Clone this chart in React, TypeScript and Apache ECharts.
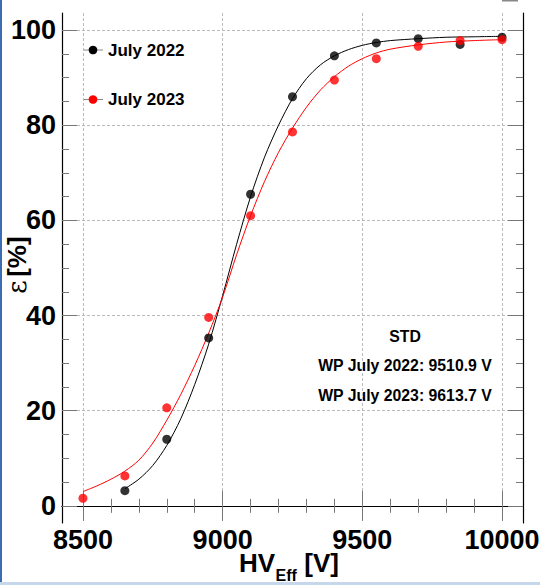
import React, { useEffect, useRef } from "react";
import * as echarts from "echarts";

// Measured points
const hv2022 = [8650, 8800, 8950, 9100, 9250, 9400, 9550, 9700, 9850, 10000];
const eff2022 = [3.2, 14.0, 35.3, 65.5, 86.0, 94.6, 97.3, 98.2, 97.0, 98.5];
const hv2023 = [8500, 8650, 8800, 8950, 9100, 9250, 9400, 9550, 9700, 9850, 10000];
const eff2023 = [1.6, 6.3, 20.6, 39.6, 61.0, 78.6, 89.5, 94.0, 96.6, 97.8, 98.0];

// Fit curves
const fitHv2022 = [8650, 8700, 8750, 8800, 8850, 8900, 8950, 9000, 9050, 9100, 9150, 9200, 9250, 9300, 9350, 9400, 9450, 9500, 9550, 9600, 9700, 9800, 9900, 10000];
const fitEff2022 = [3.6, 5.6, 8.5, 12.7, 18.3, 25.5, 34.0, 44.2, 55.0, 65.0, 73.3, 80.0, 85.6, 89.8, 92.7, 94.6, 95.9, 96.8, 97.4, 97.8, 98.2, 98.5, 98.6, 98.7];
const fitHv2023 = [8500, 8550, 8600, 8650, 8700, 8750, 8800, 8850, 8900, 8950, 9000, 9050, 9100, 9150, 9200, 9250, 9300, 9350, 9400, 9450, 9500, 9550, 9600, 9700, 9800, 9900, 10000];
const fitEff2023 = [3.0, 4.2, 5.6, 7.3, 9.6, 13.2, 18.0, 23.4, 29.5, 36.3, 43.9, 52.8, 61.0, 68.2, 74.3, 79.4, 83.8, 87.4, 90.2, 92.4, 94.0, 95.2, 96.0, 96.9, 97.5, 97.8, 98.0];

// Tick labels
const xMajor = [8500, 9000, 9500, 10000];
const yMajor = [0, 20, 40, 60, 80, 100];
const xMinorStep = 100;
const yMinorStep = 5;

const legendLabels = ["July 2022", "July 2023"];
const statsLines = ["STD", "WP July 2022: 9510.9 V", "WP July 2023: 9613.7 V"];

const X_MIN = 8425, X_MAX = 10075, Y_MIN = -3.6, Y_MAX = 103.6;

function minorValues(major: number[], step: number): number[] {
  const out: number[] = [];
  for (let i = 0; i < major.length - 1; i++) {
    for (let v = major[i] + step; v < major[i + 1] - 1e-9; v += step) out.push(Math.round(v * 1000) / 1000);
  }
  return out;
}

const FONT = "'Liberation Sans', Arial, Helvetica, sans-serif";

export default function App() {
  const ref = useRef<HTMLDivElement>(null);
  useEffect(() => {
    if (!ref.current) return;
    const chart = echarts.init(ref.current, null, { renderer: "svg" });
    const xMinor = minorValues(xMajor, xMinorStep);
    const yMinor = minorValues(yMajor, yMinorStep);
    const tickColor = "#777";
    const frame = { show: true, lineStyle: { color: "#000", width: 1.2 } };
    const base = { type: "value", min: X_MIN, max: X_MAX, gridIndex: 0 };
    const ybase = { type: "value", min: Y_MIN, max: Y_MAX, gridIndex: 0 };
    const hidden = { show: false };
    const labelStyle = { fontSize: 27, fontWeight: "bold", color: "#000", fontFamily: FONT, lineHeight: 22 };

    const option: any = {
      animation: false,
      backgroundColor: "#fff",
      grid: { left: 62, right: 17, top: 13, bottom: 62, containLabel: false, outerBoundsMode: "none" },
      xAxis: [
        {
          ...base, position: "bottom", axisLine: frame,
          axisTick: { show: true, inside: true, length: 15, customValues: xMajor, lineStyle: { color: tickColor } },
          axisLabel: { show: true, customValues: xMajor, margin: 5.5, formatter: (v: number) => String(v), ...labelStyle },
          splitLine: { show: true, lineStyle: { color: "#bbb", type: [3, 2], width: 1 } },
        },
        {
          ...base, position: "bottom", axisLine: hidden, axisLabel: hidden, splitLine: hidden,
          axisTick: { show: true, inside: true, length: 7, customValues: xMinor, lineStyle: { color: tickColor } },
        },
        {
          ...base, position: "top", axisLine: frame, axisLabel: hidden, splitLine: hidden,
          axisTick: { show: true, inside: true, length: 15, customValues: xMajor, lineStyle: { color: tickColor } },
        },
        {
          ...base, position: "top", axisLine: hidden, axisLabel: hidden, splitLine: hidden,
          axisTick: { show: true, inside: true, length: 7, customValues: xMinor, lineStyle: { color: tickColor } },
        },
      ],
      yAxis: [
        {
          ...ybase, position: "left", axisLine: frame,
          axisTick: { show: true, inside: true, length: 15, customValues: yMajor, lineStyle: { color: tickColor } },
          axisLabel: { show: true, customValues: yMajor, margin: 6, formatter: (v: number) => String(v), ...labelStyle },
          splitLine: { show: true, lineStyle: { color: "#bbb", type: [3, 2], width: 1 } },
        },
        {
          ...ybase, position: "left", axisLine: hidden, axisLabel: hidden, splitLine: hidden,
          axisTick: { show: true, inside: true, length: 7, customValues: yMinor, lineStyle: { color: tickColor } },
        },
        {
          ...ybase, position: "right", axisLine: frame, axisLabel: hidden, splitLine: hidden,
          axisTick: { show: true, inside: true, length: 15, customValues: yMajor, lineStyle: { color: tickColor } },
        },
        {
          ...ybase, position: "right", axisLine: hidden, axisLabel: hidden, splitLine: hidden,
          axisTick: { show: true, inside: true, length: 7, customValues: yMinor, lineStyle: { color: tickColor } },
        },
      ],
      series: [
        {
          type: "line", xAxisIndex: 0, yAxisIndex: 0, showSymbol: false, smooth: 0.3,
          data: fitHv2022.map((x, i) => [x, fitEff2022[i]]),
          lineStyle: { color: "#000", width: 1 }, z: 3,
        },
        {
          type: "line", xAxisIndex: 0, yAxisIndex: 0, showSymbol: false, smooth: 0.3,
          data: fitHv2023.map((x, i) => [x, fitEff2023[i]]),
          lineStyle: { color: "#ff0000", width: 1 }, z: 3,
        },
        {
          type: "scatter", xAxisIndex: 0, yAxisIndex: 0, symbol: "circle", symbolSize: 9,
          data: hv2022.map((x, i) => [x, eff2022[i]]),
          itemStyle: { color: "#000" }, z: 4,
        },
        {
          type: "scatter", xAxisIndex: 0, yAxisIndex: 0, symbol: "circle", symbolSize: 9,
          data: hv2023.map((x, i) => [x, eff2023[i]]),
          itemStyle: { color: "#ff0000" }, z: 5,
        },
      ],
      graphic: [
        { type: "rect", shape: { x: 0, y: 0, width: 2, height: 585 }, style: { fill: "#3c6cb2" } },
        { type: "rect", shape: { x: 0, y: 582, width: 540, height: 3 }, style: { fill: "#c6d7ec" } },
        { type: "rect", shape: { x: 502, y: 0, width: 16, height: 1.5 }, style: { fill: "#888" } },
        // legend
        { type: "line", shape: { x1: 83, y1: 50, x2: 103, y2: 50 }, style: { stroke: "#888", lineWidth: 1 } },
        { type: "circle", shape: { cx: 93, cy: 50, r: 4.3 }, style: { fill: "#000" } },
        { type: "text", x: 108, y: 50, style: { text: legendLabels[0], fontSize: 17, fontWeight: "bold", fontFamily: FONT, fill: "#000", verticalAlign: "middle" } },
        { type: "line", shape: { x1: 83, y1: 99.5, x2: 103, y2: 99.5 }, style: { stroke: "#888", lineWidth: 1 } },
        { type: "circle", shape: { cx: 93, cy: 99.5, r: 4.3 }, style: { fill: "#ff0000" } },
        { type: "text", x: 108, y: 99.5, style: { text: legendLabels[1], fontSize: 17, fontWeight: "bold", fontFamily: FONT, fill: "#000", verticalAlign: "middle" } },
        // stats box
        ...statsLines.map((t, i) => ({
          type: "text", x: 405, y: [336, 365, 395][i],
          style: { text: t, fontSize: 15.8, fontWeight: "bold", fontFamily: FONT, fill: "#000", align: "center", verticalAlign: "middle" },
        })),
        // x axis title
        { type: "text", x: 239, y: 563, style: { text: "HV", fontSize: 26, lineHeight: 18, fontWeight: "bold", fontFamily: FONT, fill: "#000", verticalAlign: "middle" } },
        { type: "text", x: 275.5, y: 575, style: { text: "Eff", fontSize: 16, lineHeight: 12, fontWeight: "bold", fontFamily: FONT, fill: "#000", verticalAlign: "middle" } },
        { type: "text", x: 297, y: 563, style: { text: " [V]", fontSize: 26, lineHeight: 18, fontWeight: "bold", fontFamily: FONT, fill: "#000", verticalAlign: "middle" } },
        // y axis title
        {
          type: "text", x: 17, y: 265, rotation: Math.PI / 2,
          style: {
            text: "{e|ε} {b|[%]}", align: "center", verticalAlign: "middle",
            rich: {
              e: { fontSize: 26, fontFamily: "'DejaVu Serif', 'Liberation Serif', serif", fill: "#000", color: "#000" },
              b: { fontSize: 26, fontWeight: "bold", fontFamily: FONT, fill: "#000", color: "#000" },
            },
          },
        },
      ],
    };
    chart.setOption(option);
    return () => chart.dispose();
  }, []);
  return <div ref={ref} style={{ position: "fixed", left: 0, top: 0, width: 540, height: 585 }} />;
}
